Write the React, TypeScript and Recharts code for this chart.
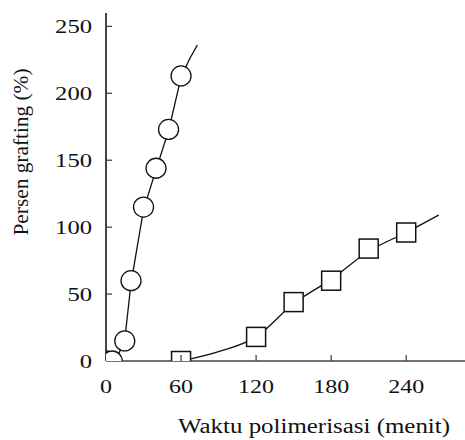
import React from 'react';
import { ComposedChart, Line, Scatter, XAxis, YAxis } from 'recharts';

const circleTime = [0, 5, 15, 20, 30, 40, 50, 60];
const circleGraft = [0, 0, 15, 60, 115, 144, 173, 213];
const circleFitTime = [4, 10, 15, 20, 30, 40, 50, 60, 67, 73];
const circleFitGraft = [0, 5, 16, 58, 113, 143, 172, 212, 226, 236];
const squareTime = [60, 120, 150, 180, 210, 240];
const squareGraft = [0, 18, 44, 60, 84, 96];
const squareFitTime = [60, 90, 120, 150, 180, 210, 240, 266];
const squareFitGraft = [0, 7, 18, 43, 61, 82, 96, 109];
const xTicks = [0, 60, 120, 180, 240];
const yTicks = [0, 50, 100, 150, 200, 250];
const xTitle = 'Waktu polimerisasi (menit)';
const yTitle = 'Persen grafting (%)';

const zip = (t: number[], v: number[]) => t.map((x, i) => ({ t: x, v: v[i] }));
const circleData = zip(circleTime, circleGraft);
const circleFit = zip(circleFitTime, circleFitGraft);
const squareData = zip(squareTime, squareGraft);
const squareFit = zip(squareFitTime, squareFitGraft);

const FONT = 'Liberation Serif, Times New Roman, Times, serif';
const AXIS = '#444';
const fontStyle = { fontFamily: FONT };

const XTick = (props: any) => {
  const { x, y, payload } = props;
  const s = String(payload.value);
  return (
    <g>
      {payload.value > 0 && <line x1={x} x2={x} y1={y - 6} y2={y} stroke={AXIS} strokeWidth={1.3} />}
      <text x={x} y={y + 32} textAnchor="middle" style={fontStyle} fontSize={19} fill="#111"
        textLength={s.length * 12} lengthAdjust="spacingAndGlyphs">{s}</text>
    </g>
  );
};

const YTick = (props: any) => {
  const { x, y, payload } = props;
  const s = String(payload.value);
  return (
    <g>
      {payload.value > 0 && <line x1={x} x2={x + 6} y1={y} y2={y} stroke={AXIS} strokeWidth={1.3} />}
      <text x={x - 14} y={y + 6.5} textAnchor="end" style={fontStyle} fontSize={19} fill="#111"
        textLength={s.length * 12.3} lengthAdjust="spacingAndGlyphs">{s}</text>
    </g>
  );
};

const CircleMark = (props: any) => (
  <circle cx={props.cx} cy={props.cy} r={10} fill="#fff" stroke="#111" strokeWidth={1.3} />
);
const SquareMark = (props: any) => (
  <rect x={props.cx - 9.5} y={props.cy - 9.5} width={19} height={19} fill="#fff" stroke="#111" strokeWidth={1.5} />
);

export default function App() {
  return (
    <div style={{ position: 'absolute', left: 0, top: 0, width: 465, height: 440, background: '#fff' }}>
      <ComposedChart width={465} height={440} margin={{ top: 13, right: 0, bottom: 0, left: 0 }}>
        <XAxis type="number" dataKey="t" domain={[0, 287]} ticks={xTicks} height={79}
          axisLine={{ stroke: AXIS, strokeWidth: 1.5 }} tickLine={false} tickSize={0} tickMargin={0}
          tick={<XTick />} allowDataOverflow interval={0} />
        <YAxis type="number" dataKey="v" domain={[0, 260]} ticks={yTicks} width={106}
          axisLine={{ stroke: AXIS, strokeWidth: 2 }} tickLine={false} tickSize={0} tickMargin={0}
          tick={<YTick />} allowDataOverflow interval={0} />
        <Line data={circleFit} dataKey="v" type="linear" stroke="#111" strokeWidth={1.3} dot={false}
          isAnimationActive={false} />
        <Line data={squareFit} dataKey="v" type="monotone" stroke="#111" strokeWidth={1.3} dot={false}
          isAnimationActive={false} />
        <Scatter data={circleData} dataKey="v" shape={<CircleMark />} isAnimationActive={false} />
        <Scatter data={squareData} dataKey="v" shape={<SquareMark />} isAnimationActive={false} />
      </ComposedChart>
      <svg width={465} height={440} style={{ position: 'absolute', left: 0, top: 0, pointerEvents: 'none' }}>
        <text x={314} y={433} textAnchor="middle" style={fontStyle} fontSize={20} fill="#111"
          textLength={272} lengthAdjust="spacingAndGlyphs">{xTitle}</text>
        <text x={0} y={0} transform="translate(28,152) rotate(-90)" textAnchor="middle" style={fontStyle}
          fontSize={20} fill="#111" textLength={167} lengthAdjust="spacingAndGlyphs">{yTitle}</text>
      </svg>
    </div>
  );
}
